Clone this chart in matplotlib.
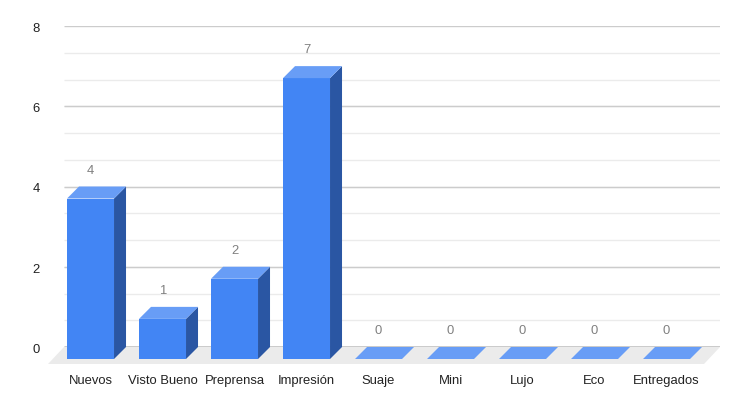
import numpy as np
import matplotlib.pyplot as plt
from matplotlib.patches import Polygon

categories = ['Nuevos', 'Visto Bueno', 'Preprensa', 'Impresión', 'Suaje',
              'Mini', 'Lujo', 'Eco', 'Entregados']
values = [4, 1, 2, 7, 0, 0, 0, 0, 0]
y_ticks = [0, 2, 4, 6, 8]

plt.rcParams['font.family'] = ['Liberation Sans', 'DejaVu Sans']

W, H = 740, 406
fig = plt.figure(figsize=(W / 100, H / 100), dpi=100)
# plot area (back plane): x 64..720 px, y 27..348 px
ax = fig.add_axes([64 / W, (H - 348) / H, 656 / W, 321 / H])
xmin, xmax = -0.535, 8.576
ax.set_xlim(xmin, xmax)
ax.set_ylim(0, 8)
ax.axis('off')

# pixel sizes in data units
px_x = (xmax - xmin) / 656
px_y = 8 / 321

depth_x, depth_y = 12 * px_x, 12 * px_y      # bar depth
floor_x, floor_y = 16 * px_x, 17 * px_y      # floor depth
bar_w = 47 * px_x

front_c = '#4285f4'
side_c = '#2a56a3'
top_c = '#689df6'

# gridlines
minor = np.arange(0, 8, 2 / 3)
ax.hlines(minor, xmin, xmax, colors='#ebebeb', linewidth=1, zorder=0)
ax.hlines(y_ticks, xmin, xmax, colors='#cccccc', linewidth=1, zorder=0.5)

# floor
floor = Polygon([(xmin, 0), (xmax, 0), (xmax - floor_x, -floor_y), (xmin - floor_x, -floor_y)],
                closed=True, facecolor='#ebebeb', edgecolor='none', zorder=1, clip_on=False)
ax.add_patch(floor)
ax.hlines(0, xmin, xmax, colors='#333333', linewidth=1, zorder=1.5)

for i, v in enumerate(values):
    l, r = i - bar_w / 2, i + bar_w / 2
    front = [(l - depth_x, -depth_y), (r - depth_x, -depth_y), (r - depth_x, v - depth_y), (l - depth_x, v - depth_y)]
    side = [(r - depth_x, -depth_y), (r, 0), (r, v), (r - depth_x, v - depth_y)]
    top = [(l - depth_x, v - depth_y), (r - depth_x, v - depth_y), (r, v), (l, v)]
    for pts, c in [(side, side_c), (front, front_c), (top, top_c)]:
        ax.add_patch(Polygon(pts, closed=True, facecolor=c, edgecolor='none',
                             zorder=2, clip_on=False))
    ax.text(i - depth_x, v + 17 * px_y, str(v), ha='center', va='center',
            fontsize=9.4, color='#808080')
    ax.text(i - depth_x, -33 * px_y, categories[i], ha='center', va='center',
            fontsize=9.4, color='#222222')

for t in y_ticks:
    ax.text(xmin - 24 * px_x, t - 2 * px_y, str(t), ha='right', va='center',
            fontsize=9.4, color='#222222')

fig.savefig('out.png', dpi=100)
